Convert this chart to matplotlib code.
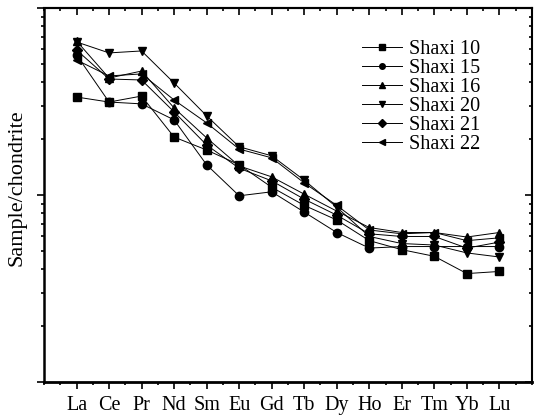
import numpy as np
import matplotlib
matplotlib.use("Agg")
import matplotlib.pyplot as plt
from matplotlib.ticker import LogLocator, NullFormatter, MultipleLocator

plt.rcParams['font.family'] = ['Liberation Serif', 'DejaVu Serif']

elements = ['La', 'Ce', 'Pr', 'Nd', 'Sm', 'Eu', 'Gd', 'Tb', 'Dy', 'Ho', 'Er', 'Tm', 'Yb', 'Lu']

# chondrite-normalised values
shaxi10 = [33.4, 31.4, 33.8, 20.4, 17.4, 14.5, 11.0, 8.8, 7.35, 5.7, 5.1, 4.7, 3.8, 3.9]
shaxi15 = [56.1, 31.4, 30.7, 25.2, 14.5, 9.9, 10.4, 8.1, 6.3, 5.2, 5.3, 5.3, 5.3, 5.3]
shaxi16 = [66.6, 42.2, 46.0, 29.2, 20.2, 14.3, 12.5, 10.1, 8.2, 6.7, 6.3, 6.3, 5.96, 6.3]
shaxi20 = [65.8, 57.5, 58.9, 39.7, 26.5, 18.1, 16.2, 12.0, 8.6, 6.0, 5.5, 5.4, 4.9, 4.66]
shaxi21 = [59.6, 41.7, 41.2, 27.8, 18.5, 13.9, 11.9, 9.5, 7.8, 6.2, 6.0, 6.0, 5.2, 5.6]
shaxi22 = [52.7, 43.3, 44.4, 32.2, 24.3, 17.6, 15.8, 11.6, 8.8, 6.5, 6.2, 6.3, 5.7, 5.9]

series = [
    ('Shaxi 10', shaxi10, 's'),
    ('Shaxi 15', shaxi15, 'o'),
    ('Shaxi 16', shaxi16, '^'),
    ('Shaxi 20', shaxi20, 'v'),
    ('Shaxi 21', shaxi21, 'D'),
    ('Shaxi 22', shaxi22, '<'),
]

fig = plt.figure(figsize=(5.4, 4.19), dpi=100)
ax = fig.add_axes([0.0815, 0.0883, 0.9035, 0.8927])

x = np.arange(1, len(elements) + 1)
for name, vals, mk in series:
    ms = 5 if mk == 'D' else 6
    ax.plot(x, vals, color='black', lw=0.7, marker=mk, ms=ms,
            markerfacecolor='black', markeredgecolor='black', label=name)

ax.set_yscale('log')
ax.set_ylim(1, 100)
ax.set_xlim(0, 15)
ax.set_xticks(x)
ax.set_xticklabels(elements, fontsize=14.5)
ax.xaxis.set_minor_locator(MultipleLocator(0.5))
ax.yaxis.set_major_locator(LogLocator(base=10, numticks=10))
ax.yaxis.set_minor_locator(LogLocator(base=10, subs=np.arange(2, 10), numticks=10))
ax.yaxis.set_major_formatter(NullFormatter())
ax.yaxis.set_minor_formatter(NullFormatter())

ax.tick_params(which='both', direction='out', top=False, right=False, width=1.2)
ax.tick_params(which='major', length=5, pad=5)
ax.tick_params(which='minor', length=2.5)

# mirrored inward ticks on the top and right
sec_x = ax.secondary_xaxis('top')
sec_x.set_xticks(x)
sec_x.set_xticklabels([])
sec_x.xaxis.set_minor_locator(MultipleLocator(0.5))
sec_x.tick_params(which='both', direction='in', width=1.2)
sec_x.tick_params(which='major', length=5)
sec_x.tick_params(which='minor', length=2.5)

sec_y = ax.secondary_yaxis('right')
sec_y.yaxis.set_major_locator(LogLocator(base=10, numticks=10))
sec_y.yaxis.set_minor_locator(LogLocator(base=10, subs=np.arange(2, 10), numticks=10))
sec_y.yaxis.set_major_formatter(NullFormatter())
sec_y.yaxis.set_minor_formatter(NullFormatter())
sec_y.tick_params(which='both', direction='in', width=1.2)
sec_y.tick_params(which='major', length=5)
sec_y.tick_params(which='minor', length=2.5)

for s in ax.spines.values():
    s.set_linewidth(1.5)
ax.spines['bottom'].set_linewidth(2)
ax.spines['left'].set_linewidth(1.8)
for s in sec_x.spines.values():
    s.set_linewidth(1.5)
for s in sec_y.spines.values():
    s.set_linewidth(1.2)

ax.set_ylabel('Sample/chondrite', fontsize=16)
ax.yaxis.set_label_coords(-0.036, 0.52)

leg = ax.legend(loc='upper left', bbox_to_anchor=(0.652, 0.915), frameon=False,
                fontsize=14.5, handlelength=2.0, handletextpad=0.35,
                labelspacing=0.0, borderaxespad=0, borderpad=0)
for h in leg.legend_handles:
    h.set_markersize(4)

fig.savefig('out.png', dpi=100)
